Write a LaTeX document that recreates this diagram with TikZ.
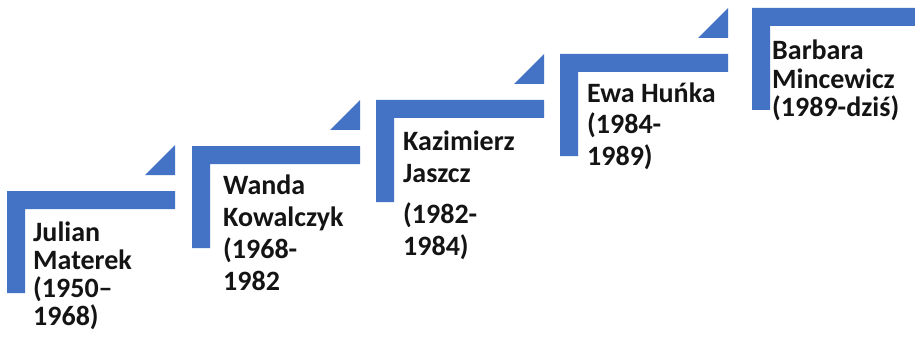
\documentclass[tikz,border=0pt]{standalone}
\usepackage{fontspec}
\setmainfont{Carlito}
\definecolor{stairblue}{RGB}{68,114,196}
\definecolor{txt}{RGB}{20,20,20}
\tikzset{
  stairstep/.pic={
    \fill[stairblue] (0,0) -- (168,0) -- (168,18) -- (18,18) -- (18,102) -- (0,102) -- cycle;
    \fill[stairblue] (138,-16) -- (168,-16) -- (168,-46) -- cycle;
  },
  person/.style={anchor=base west, inner sep=0pt, align=left, text=txt},
  lineskip/.style={font=\bfseries\fontsize{28}{#1}\selectfont}
}
\begin{document}
\begin{tikzpicture}[x=1pt,y=-1pt]
\useasboundingbox (0,0) rectangle (915,342);
\clip (0,0) rectangle (915,342);
\fill[white] (0,0) rectangle (915,342);
\pic at (7,191) {stairstep};
\pic at (192,146) {stairstep};
\pic at (376,100) {stairstep};
\pic at (560,54) {stairstep};
\pic at (752,8) {stairstep};
% anchors placed at the baseline of each text's last line
\node[person, lineskip=27.7] (julian) at (33,325) {Julian\\Materek\\(1950--\\1968)};
\node[person, lineskip=31.7] (wanda) at (223,290) {Wanda\\Kowalczyk\\(1968-\\1982};
\node[person, lineskip=31.5] (kazimierz) at (403,255) {Kazimierz\\Jaszcz\\[10pt](1982-\\1984)};
\node[person, lineskip=31.5] (ewa) at (587,165) {Ewa Huńka\\(1984-\\1989)};
\node[person, lineskip=28.5] (barbara) at (772,117) {Barbara\\Mincewicz\\(1989-dziś)};
\end{tikzpicture}
\end{document}
